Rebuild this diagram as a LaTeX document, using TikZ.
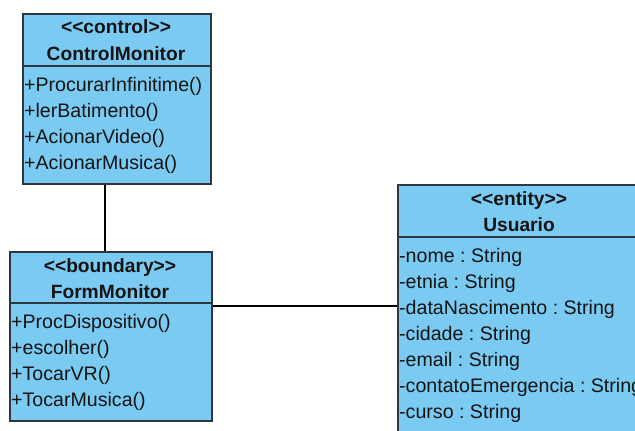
\documentclass[tikz,border=0pt]{standalone}
\usepackage{fontspec}
\setmainfont{Liberation Sans}
\definecolor{umlfill}{RGB}{122,202,242}
\definecolor{umlline}{RGB}{45,55,65}
\definecolor{umltext}{RGB}{20,20,20}
% stereotype brackets, kept apart so they are not turned into guillemets
\newcommand\stopen{<\kern0pt<}
\newcommand\stclose{>\kern0pt>}
\frenchspacing
\begin{document}
\begin{tikzpicture}[x=1pt,y=-1pt,
  classbox/.style={draw=umlline, line width=1.6pt, fill=umlfill, rectangle,
                   inner sep=0pt, anchor=north west},
  divider/.style={draw=umlline, line width=1.6pt},
  head/.style={anchor=base, font=\fontsize{19.2}{23}\selectfont\bfseries,
               text=umltext, inner sep=0pt},
  member/.style={anchor=base west, font=\fontsize{19.6}{23}\selectfont,
                 text=umltext, inner sep=0pt},
  link/.style={draw=black, line width=1.4pt}]
\useasboundingbox (0,0) rectangle (635,431);
\clip (0,0) rectangle (635,431);
\fill[white] (0,0) rectangle (635,431);

% ControlMonitor
\node[classbox, minimum width=188pt, minimum height=170pt] (cm) at (22,13) {};
\draw[divider] ([yshift=-53pt]cm.north west) -- ([yshift=-53pt]cm.north east);
\node[head] (cms) at (116,34) {\stopen control\stclose};
\node[head] (cmn) at (116,60) {ControlMonitor};
\node[member] (cm1) at (24,91)  {+ProcurarInfinitime()};
\node[member] (cm2) at (24,117) {+lerBatimento()};
\node[member] (cm3) at (24,143) {+AcionarVideo()};
\node[member] (cm4) at (24,169) {+AcionarMusica()};

% FormMonitor
\node[classbox, minimum width=202pt, minimum height=169pt] (fm) at (9,251) {};
\draw[divider] ([yshift=-52pt]fm.north west) -- ([yshift=-52pt]fm.north east);
\node[head] (fms) at (110,272) {\stopen boundary\stclose};
\node[head] (fmn) at (110,298) {FormMonitor};
\node[member] (fm1) at (11,328) {+ProcDispositivo()};
\node[member] (fm2) at (11,354) {+escolher()};
\node[member] (fm3) at (11,380) {+TocarVR()};
\node[member] (fm4) at (11,406) {+TocarMusica()};

% Usuario
\node[classbox, minimum width=244pt, minimum height=270pt] (us) at (397,184) {};
\draw[divider] ([yshift=-53pt]us.north west) -- ([yshift=-53pt]us.north east);
\node[head] (uss) at (519,205) {\stopen entity\stclose};
\node[head] (usn) at (519,231) {Usuario};
\node[member] (us1) at (399,262) {-nome : String};
\node[member] (us2) at (399,288) {-etnia : String};
\node[member] (us3) at (399,314) {-dataNascimento : String};
\node[member] (us4) at (399,340) {-cidade : String};
\node[member] (us5) at (399,366) {-email : String};
\node[member] (us6) at (399,392) {-contatoEmergencia : String};
\node[member] (us7) at (399,418) {-curso : String};

% associations
\draw[link] ([xshift=83pt]cm.south west) -- ([xshift=96pt]fm.north west);
\draw[link] ([yshift=-55pt]fm.north east) -- ([yshift=-122pt]us.north west);
\end{tikzpicture}
\end{document}
